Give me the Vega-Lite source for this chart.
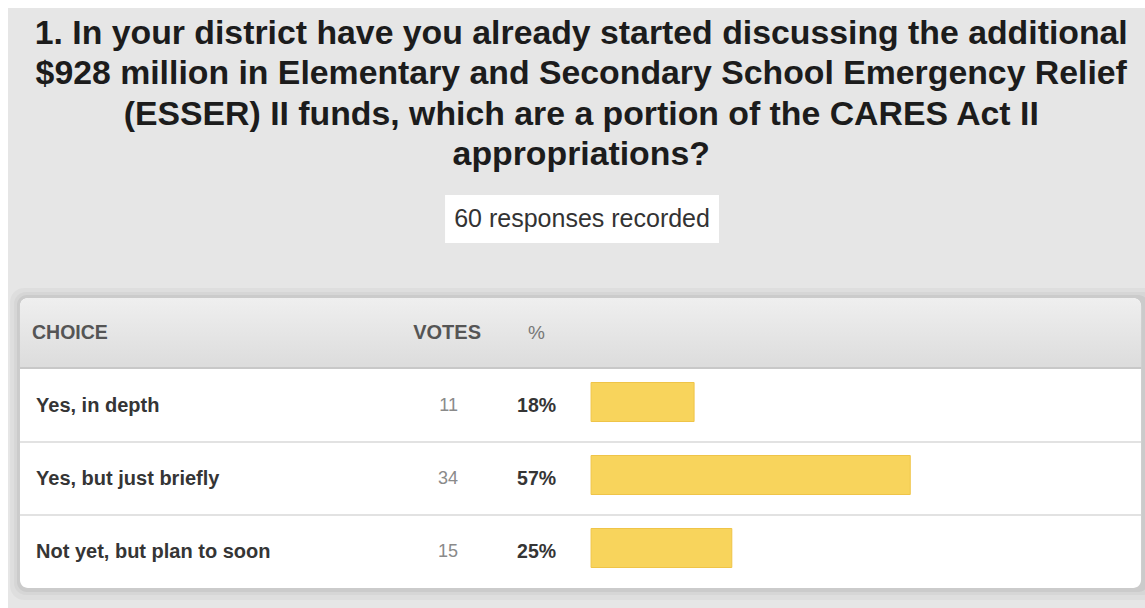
{
  "$schema": "https://vega.github.io/schema/vega-lite/v6.json",
  "width": 1145,
  "height": 608,
  "autosize": {"type": "none"},
  "padding": 0,
  "background": "white",
  "config": {"view": {"stroke": null}, "font": "Liberation Sans"},
  "data": {
    "values": [
      {"choice": "Yes, in depth", "votes": 11, "share": 0.183, "row": 1},
      {"choice": "Yes, but just briefly", "votes": 34, "share": 0.567, "row": 2},
      {"choice": "Not yet, but plan to soon", "votes": 15, "share": 0.25, "row": 3}
    ]
  },
  "layer": [
    {
      "data": {"values": [{"k": 1}]},
      "mark": {"type": "rect", "fill": "#e6e6e6"},
      "encoding": {
        "x": {"datum": -1.0358, "type": "quantitative", "scale": {"domain": [-1.05, 0.984], "nice": false, "zero": false, "padding": 0}, "axis": null},
        "x2": {"datum": 0.984},
        "y": {"datum": -4.452, "type": "quantitative", "scale": {"domain": [-4.5616, 3.767], "nice": false, "zero": false, "reverse": true, "padding": 0}, "axis": null},
        "y2": {"datum": 3.767}
      }
    },
    {
      "data": {"values": [{"label": ["1. In your district have you already started discussing the additional", "$928 million in Elementary and Secondary School Emergency Relief", "(ESSER) II funds, which are a portion of the CARES Act II", "appropriations?"]}]},
      "mark": {"type": "text", "font": "Liberation Sans", "fontSize": 33.8, "fontWeight": "bold", "color": "#1c1c1c", "align": "center", "baseline": "alphabetic", "lineHeight": 40.3},
      "encoding": {
        "x": {"datum": -0.0175, "type": "quantitative", "scale": {"domain": [-1.05, 0.984], "nice": false, "zero": false, "padding": 0}, "axis": null},
        "y": {"datum": -3.959, "type": "quantitative", "scale": {"domain": [-4.5616, 3.767], "nice": false, "zero": false, "reverse": true, "padding": 0}, "axis": null},
        "text": {"field": "label", "type": "nominal"}
      }
    },
    {
      "data": {"values": [{"k": 1}]},
      "mark": {"type": "rect", "fill": "#000000", "opacity": 0.03, "cornerRadius": 14},
      "encoding": {
        "x": {"datum": -1.0322, "type": "quantitative", "scale": {"domain": [-1.05, 0.984], "nice": false, "zero": false, "padding": 0}, "axis": null},
        "x2": {"datum": 1.02},
        "y": {"datum": -0.616, "type": "quantitative", "scale": {"domain": [-4.5616, 3.767], "nice": false, "zero": false, "reverse": true, "padding": 0}, "axis": null},
        "y2": {"datum": 3.658}
      }
    },
    {
      "data": {"values": [{"k": 1}]},
      "mark": {"type": "rect", "fill": "#000000", "opacity": 0.035, "cornerRadius": 12},
      "encoding": {
        "x": {"datum": -1.0251, "type": "quantitative", "scale": {"domain": [-1.05, 0.984], "nice": false, "zero": false, "padding": 0}, "axis": null},
        "x2": {"datum": 1.0},
        "y": {"datum": -0.562, "type": "quantitative", "scale": {"domain": [-4.5616, 3.767], "nice": false, "zero": false, "reverse": true, "padding": 0}, "axis": null},
        "y2": {"datum": 3.589}
      }
    },
    {
      "data": {"values": [{"k": 1}]},
      "mark": {"type": "rect", "fill": "#000000", "opacity": 0.05, "cornerRadius": 10},
      "encoding": {
        "x": {"datum": -1.0198, "type": "quantitative", "scale": {"domain": [-1.05, 0.984], "nice": false, "zero": false, "padding": 0}, "axis": null},
        "x2": {"datum": 0.99},
        "y": {"datum": -0.521, "type": "quantitative", "scale": {"domain": [-4.5616, 3.767], "nice": false, "zero": false, "reverse": true, "padding": 0}, "axis": null},
        "y2": {"datum": 3.548}
      }
    },
    {
      "data": {"values": [{"k": 1}]},
      "mark": {"type": "rect", "fill": "#ffffff", "cornerRadius": 8},
      "encoding": {
        "x": {"datum": -1.0145, "type": "quantitative", "scale": {"domain": [-1.05, 0.984], "nice": false, "zero": false, "padding": 0}, "axis": null},
        "x2": {"datum": 0.977},
        "y": {"datum": -0.479, "type": "quantitative", "scale": {"domain": [-4.5616, 3.767], "nice": false, "zero": false, "reverse": true, "padding": 0}, "axis": null},
        "y2": {"datum": 3.493}
      }
    },
    {
      "data": {"values": [{"k": 1}]},
      "mark": {
        "type": "rect",
        "cornerRadiusTopLeft": 8,
        "cornerRadiusTopRight": 8,
        "fill": {
          "gradient": "linear", "x1": 0, "y1": 0, "x2": 0, "y2": 1,
          "stops": [{"offset": 0, "color": "#efefef"}, {"offset": 1, "color": "#dcdcdc"}]
        }
      },
      "encoding": {
        "x": {"datum": -1.0145, "type": "quantitative", "scale": {"domain": [-1.05, 0.984], "nice": false, "zero": false, "padding": 0}, "axis": null},
        "x2": {"datum": 0.977},
        "y": {"datum": -0.479, "type": "quantitative", "scale": {"domain": [-4.5616, 3.767], "nice": false, "zero": false, "reverse": true, "padding": 0}, "axis": null},
        "y2": {"datum": 0.479}
      }
    },
    {
      "data": {"values": [{"k": 1}]},
      "mark": {"type": "rule", "stroke": "#c8c8c8", "strokeWidth": 2},
      "encoding": {
        "x": {"datum": -1.0145, "type": "quantitative", "scale": {"domain": [-1.05, 0.984], "nice": false, "zero": false, "padding": 0}, "axis": null},
        "x2": {"datum": 0.977},
        "y": {"datum": 0.479, "type": "quantitative", "scale": {"domain": [-4.5616, 3.767], "nice": false, "zero": false, "reverse": true, "padding": 0}, "axis": null}
      }
    },
    {
      "data": {"values": [{"k": 1}]},
      "mark": {"type": "rule", "stroke": "#e2e2e2", "strokeWidth": 2},
      "encoding": {
        "x": {"datum": -1.0145, "type": "quantitative", "scale": {"domain": [-1.05, 0.984], "nice": false, "zero": false, "padding": 0}, "axis": null},
        "x2": {"datum": 0.977},
        "y": {"datum": 1.493, "type": "quantitative", "scale": {"domain": [-4.5616, 3.767], "nice": false, "zero": false, "reverse": true, "padding": 0}, "axis": null}
      }
    },
    {
      "data": {"values": [{"k": 1}]},
      "mark": {"type": "rule", "stroke": "#e2e2e2", "strokeWidth": 2},
      "encoding": {
        "x": {"datum": -1.0145, "type": "quantitative", "scale": {"domain": [-1.05, 0.984], "nice": false, "zero": false, "padding": 0}, "axis": null},
        "x2": {"datum": 0.977},
        "y": {"datum": 2.493, "type": "quantitative", "scale": {"domain": [-4.5616, 3.767], "nice": false, "zero": false, "reverse": true, "padding": 0}, "axis": null}
      }
    },
    {
      "data": {"values": [{"k": 1}]},
      "mark": {"type": "rect", "fill": "#ffffff"},
      "encoding": {
        "x": {"datum": -0.2594, "type": "quantitative", "scale": {"domain": [-1.05, 0.984], "nice": false, "zero": false, "padding": 0}, "axis": null},
        "x2": {"datum": 0.2273},
        "y": {"datum": -1.89, "type": "quantitative", "scale": {"domain": [-4.5616, 3.767], "nice": false, "zero": false, "reverse": true, "padding": 0}, "axis": null},
        "y2": {"datum": -1.233}
      }
    },
    {
      "data": {"values": [{"label": "60 responses recorded"}]},
      "mark": {"type": "text", "font": "Liberation Sans", "fontSize": 25, "color": "#333333", "align": "center", "baseline": "middle"},
      "encoding": {
        "x": {"datum": -0.016, "type": "quantitative", "scale": {"domain": [-1.05, 0.984], "nice": false, "zero": false, "padding": 0}, "axis": null},
        "y": {"datum": -1.562, "type": "quantitative", "scale": {"domain": [-4.5616, 3.767], "nice": false, "zero": false, "reverse": true, "padding": 0}, "axis": null},
        "text": {"field": "label", "type": "nominal"}
      }
    },
    {
      "data": {"values": [{"label": "CHOICE"}]},
      "mark": {"type": "text", "font": "Liberation Sans", "fontSize": 19.5, "fontWeight": "bold", "color": "#555555", "align": "left", "baseline": "middle"},
      "encoding": {
        "x": {"datum": -0.9932, "type": "quantitative", "scale": {"domain": [-1.05, 0.984], "nice": false, "zero": false, "padding": 0}, "axis": null},
        "y": {"datum": 0, "type": "quantitative", "scale": {"domain": [-4.5616, 3.767], "nice": false, "zero": false, "reverse": true, "padding": 0}, "axis": null},
        "text": {"field": "label", "type": "nominal"}
      }
    },
    {
      "data": {"values": [{"label": "VOTES"}]},
      "mark": {"type": "text", "font": "Liberation Sans", "fontSize": 20, "fontWeight": "bold", "color": "#555555", "align": "right", "baseline": "middle"},
      "encoding": {
        "x": {"datum": -0.1955, "type": "quantitative", "scale": {"domain": [-1.05, 0.984], "nice": false, "zero": false, "padding": 0}, "axis": null},
        "y": {"datum": 0, "type": "quantitative", "scale": {"domain": [-4.5616, 3.767], "nice": false, "zero": false, "reverse": true, "padding": 0}, "axis": null},
        "text": {"field": "label", "type": "nominal"}
      }
    },
    {
      "data": {"values": [{"label": "%"}]},
      "mark": {"type": "text", "font": "Liberation Sans", "fontSize": 19, "color": "#777777", "align": "center", "baseline": "middle"},
      "encoding": {
        "x": {"datum": -0.0969, "type": "quantitative", "scale": {"domain": [-1.05, 0.984], "nice": false, "zero": false, "padding": 0}, "axis": null},
        "y": {"datum": 0, "type": "quantitative", "scale": {"domain": [-4.5616, 3.767], "nice": false, "zero": false, "reverse": true, "padding": 0}, "axis": null},
        "text": {"field": "label", "type": "nominal"}
      }
    },
    {
      "mark": {"type": "text", "font": "Liberation Sans", "fontSize": 20, "fontWeight": "bold", "color": "#353535", "align": "left", "baseline": "middle"},
      "encoding": {
        "x": {"datum": -0.986, "type": "quantitative", "scale": {"domain": [-1.05, 0.984], "nice": false, "zero": false, "padding": 0}, "axis": null},
        "y": {"field": "row", "type": "quantitative", "scale": {"domain": [-4.5616, 3.767], "nice": false, "zero": false, "reverse": true, "padding": 0}, "axis": null},
        "text": {"field": "choice", "type": "nominal"}
      }
    },
    {
      "mark": {"type": "text", "font": "Liberation Sans", "fontSize": 18, "color": "#8a8a8a", "align": "right", "baseline": "middle"},
      "encoding": {
        "x": {"datum": -0.2363, "type": "quantitative", "scale": {"domain": [-1.05, 0.984], "nice": false, "zero": false, "padding": 0}, "axis": null},
        "y": {"field": "row", "type": "quantitative", "scale": {"domain": [-4.5616, 3.767], "nice": false, "zero": false, "reverse": true, "padding": 0}, "axis": null},
        "text": {"field": "votes", "type": "quantitative"}
      }
    },
    {
      "mark": {"type": "text", "font": "Liberation Sans", "fontSize": 19.5, "fontWeight": "bold", "color": "#353535", "align": "left", "baseline": "middle"},
      "encoding": {
        "x": {"datum": -0.1315, "type": "quantitative", "scale": {"domain": [-1.05, 0.984], "nice": false, "zero": false, "padding": 0}, "axis": null},
        "y": {"field": "row", "type": "quantitative", "scale": {"domain": [-4.5616, 3.767], "nice": false, "zero": false, "reverse": true, "padding": 0}, "axis": null},
        "text": {"field": "share", "type": "quantitative", "format": ".0%"}
      }
    },
    {
      "mark": {"type": "bar", "fill": "#f8d45c", "stroke": "#efc448", "strokeWidth": 1, "height": 39, "yOffset": -4, "orient": "horizontal"},
      "encoding": {
        "x": {"field": "share", "type": "quantitative", "scale": {"domain": [-1.05, 0.984], "nice": false, "zero": false, "padding": 0}, "axis": null},
        "x2": {"datum": 0},
        "y": {"field": "row", "type": "quantitative", "scale": {"domain": [-4.5616, 3.767], "nice": false, "zero": false, "reverse": true, "padding": 0}, "axis": null}
      }
    }
  ]
}
